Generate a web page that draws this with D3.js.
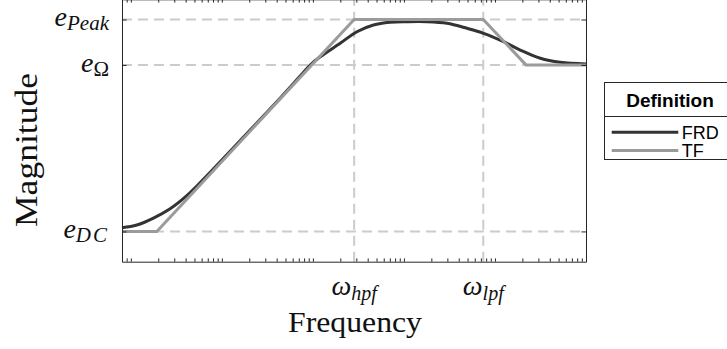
<!DOCTYPE html>
<html><head><meta charset="utf-8">
<script src="https://cdn.jsdelivr.net/npm/d3@7"></script>
<style>body{margin:0;background:#fff} svg{display:block}</style>
</head><body>
<svg id="c" width="727" height="349"></svg>
<script>
// ---------- data ----------
const frdFreq = [0.8, 1.164, 1.772, 2.703, 4.125, 5.312, 9.58, 20.46, 38.5, 72.5, 93.4, 120.3, 199.5, 304.6, 463.5, 707, 1079, 1790, 2970, 4923, 7493, 12440, 18970, 31470, 52200, 100000];
const frdMag  = [-41.26, -40.73, -39.35, -37.5, -34.9, -33.0, -28.2, -21.9, -16.65, -11.2, -9.02, -7.4, -4.72, -2.42, -1.09, -0.56, -0.44, -0.44, -0.76, -1.75, -2.74, -4.40, -6.05, -7.69, -8.49, -8.82];
const tfFreq = [0.8, 1.93, 284, 7437, 21900, 100000];
const tfMag  = [-42, -42, 0, 0, -9, -9];
const yTickValues = [-42, -9, 0];
const yTickLabels = [["e", "DC", true], ["e", "Ω", false], ["e", "Peak", true]];
const xTickValues = [284, 7437];
const xTickLabels = [["ω", "hpf"], ["ω", "lpf"]];
const seriesNames = ["FRD", "TF"];
const xTitle = "Frequency", yTitle = "Magnitude", legendTitle = "Definition";

// ---------- chart ----------
const svg = d3.select("#c");
const x = d3.scaleLog().domain([0.8, 1e5]).range([122, 586]);
const y = d3.scaleLinear().domain([-48, 4]).range([261.7, -0.7]);
const axisColor = "#262626", gridColor = "#cbcbcb";
const serif = "'Liberation Serif', 'DejaVu Serif', serif";
const sans = "'Liberation Sans', Arial, sans-serif";

// grid
svg.append("g").selectAll("line").data(yTickValues).join("line")
  .attr("x1", x.range()[0]).attr("x2", x.range()[1])
  .attr("y1", d => y(d)).attr("y2", d => y(d))
  .attr("stroke", gridColor).attr("stroke-width", 2).attr("stroke-dasharray", "10,6");
svg.append("g").selectAll("line").data(xTickValues).join("line")
  .attr("x1", d => x(d)).attr("x2", d => x(d))
  .attr("y1", y.range()[0]).attr("y2", y.range()[1])
  .attr("stroke", gridColor).attr("stroke-width", 2).attr("stroke-dasharray", "10,6");

// series
const frd = frdFreq.map((f, i) => [f, frdMag[i]]);
const tf = tfFreq.map((f, i) => [f, tfMag[i]]);
svg.append("path").datum(frd)
  .attr("d", d3.line().x(d => x(d[0])).y(d => y(d[1])).curve(d3.curveCatmullRom.alpha(0.5)))
  .attr("fill", "none").attr("stroke", "#333333").attr("stroke-width", 3);
svg.append("path").datum(tf)
  .attr("d", d3.line().x(d => x(d[0])).y(d => y(d[1])))
  .attr("fill", "none").attr("stroke", "#9b9b9b").attr("stroke-width", 3);

// axes
function styleAxis(g) {
  g.selectAll("path,line").attr("stroke", axisColor);
  g.selectAll("text").remove();
}
svg.append("g").attr("transform", `translate(0,${y.range()[0]})`)
  .call(d3.axisBottom(x).ticks(10).tickSizeInner(-3.3).tickSizeOuter(0).tickFormat("")).call(styleAxis);
svg.append("g").attr("transform", `translate(0,${y.range()[1]})`)
  .call(d3.axisTop(x).ticks(10).tickSizeInner(-3.3).tickSizeOuter(0).tickFormat("")).call(styleAxis);
svg.append("g").attr("transform", `translate(${x.range()[0]},0)`)
  .call(d3.axisLeft(y).tickValues(yTickValues).tickSizeInner(-4.6).tickSizeOuter(0).tickFormat("")).call(styleAxis);
svg.append("g").attr("transform", `translate(${x.range()[1]},0)`)
  .call(d3.axisRight(y).tickValues(yTickValues).tickSizeInner(-4.6).tickSizeOuter(0).tickFormat("")).call(styleAxis);

// y tick labels
yTickValues.forEach((v, i) => {
  const [b, s, it] = yTickLabels[i];
  const t = svg.append("text").attr("x", 109).attr("y", y(v) + 7)
    .attr("text-anchor", "end").attr("font-family", serif).attr("fill", "#111");
  t.append("tspan").attr("font-size", 28).attr("font-style", "italic").text(b);
  t.append("tspan").attr("font-size", 21).attr("font-style", it ? "italic" : "normal").attr("dy", 4)
    .attr("letter-spacing", s === "DC" ? 2 : 0).text(s);
});
// x tick labels
xTickValues.forEach((v, i) => {
  const [b, s] = xTickLabels[i];
  const t = svg.append("text").attr("x", x(v)).attr("y", 295)
    .attr("text-anchor", "middle").attr("font-family", serif).attr("fill", "#111");
  t.append("tspan").attr("font-size", 28).attr("font-style", "italic").text(b);
  t.append("tspan").attr("font-size", 20).attr("font-style", "italic").attr("dy", 5).text(s);
});

// titles
svg.append("text").attr("x", 355).attr("y", 332).attr("text-anchor", "middle")
  .attr("font-family", serif).attr("font-size", 30).attr("fill", "#111")
  .attr("textLength", 134).attr("lengthAdjust", "spacingAndGlyphs").text(xTitle);
svg.append("text").attr("transform", "translate(37,150) rotate(-90)").attr("text-anchor", "middle")
  .attr("font-family", serif).attr("font-size", 31).attr("fill", "#111")
  .attr("textLength", 154).attr("lengthAdjust", "spacingAndGlyphs").text(yTitle);

// legend
const lg = svg.append("g");
lg.append("rect").attr("x", 604.5).attr("y", 82.5).attr("width", 140).attr("height", 77)
  .attr("fill", "#fff").attr("stroke", axisColor);
lg.append("line").attr("x1", 604.5).attr("x2", 744).attr("y1", 116.5).attr("y2", 116.5).attr("stroke", axisColor);
lg.append("text").attr("x", 670).attr("y", 106.5).attr("text-anchor", "middle")
  .attr("font-family", sans).attr("font-weight", "bold").attr("font-size", 19).attr("fill", "#000").text(legendTitle);
const legColors = ["#333333", "#9b9b9b"];
const legY = [132.2, 150.5];
seriesNames.forEach((n, i) => {
  lg.append("line").attr("x1", 611.7).attr("x2", 678.3).attr("y1", legY[i]).attr("y2", legY[i])
    .attr("stroke", legColors[i]).attr("stroke-width", 3);
  lg.append("text").attr("x", 681.7).attr("y", legY[i] + 6.5)
    .attr("font-family", sans).attr("font-size", 18).attr("fill", "#000").text(n);
});
</script>
</body></html>
